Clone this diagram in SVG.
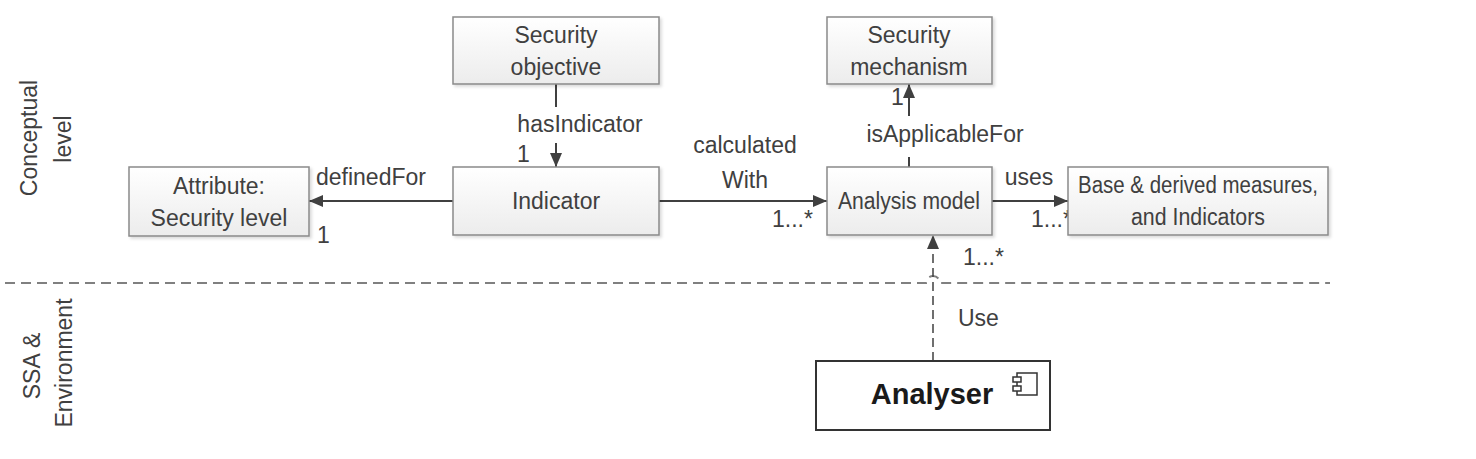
<svg xmlns="http://www.w3.org/2000/svg" width="1476" height="459" viewBox="0 0 1476 459">
<style>
.box{fill:url(#g);stroke:#8a8a8a;stroke-width:1.5;filter:url(#sh)}
.t{font-family:"Liberation Sans",Arial,sans-serif;font-size:23px;fill:#404040}
.c{stroke:#404040;stroke-width:2;fill:none}
.d{stroke:#404040;stroke-width:1.5;fill:none;stroke-dasharray:9,5}
</style>
<defs>
<linearGradient id="g" x1="0" y1="0" x2="0" y2="1"><stop offset="0" stop-color="#ffffff"/><stop offset="1" stop-color="#ececec"/></linearGradient>
<filter id="sh" x="-5%" y="-10%" width="115%" height="130%"><feDropShadow dx="2" dy="2" stdDeviation="1.5" flood-color="#000000" flood-opacity="0.15"/></filter>
<marker id="a" viewBox="0 0 14 12" refX="14" refY="6" markerWidth="14" markerHeight="12" markerUnits="userSpaceOnUse" orient="auto"><path d="M0,0 L14,6 L0,12 Z" fill="#404040"/></marker>
</defs>
<rect width="1476" height="459" fill="#ffffff"/>
<g id="lanes">
<path d="M5,283 H926 A7,7 0 0 1 940,283 H1330" stroke="#808080" stroke-width="2" stroke-dasharray="10,6" fill="none"/>
<text class="t" text-anchor="middle" transform="translate(37,138) rotate(-90)">Conceptual</text>
<text class="t" text-anchor="middle" transform="translate(71,139) rotate(-90)">level</text>
<text class="t" text-anchor="middle" transform="translate(40,366) rotate(-90)">SSA &amp;</text>
<text class="t" text-anchor="middle" transform="translate(72,363) rotate(-90)">Environment</text>
</g>
<g id="connectors">
<path class="c" d="M453,201 H309" marker-end="url(#a)"/>
<path class="c" d="M556,84 V107"/>
<path class="c" d="M556,143 V167" marker-end="url(#a)"/>
<path class="c" d="M659,201 H827" marker-end="url(#a)"/>
<path class="c" d="M909,167 V157"/>
<path class="c" d="M909,116 V84" marker-end="url(#a)"/>
<path class="c" d="M992,201 H1068" marker-end="url(#a)"/>
<path class="d" d="M933,361 V235" marker-end="url(#a)"/>
<text class="t" x="316" y="185">definedFor</text>
<text class="t" x="317" y="243">1</text>
<text class="t" x="580" y="132" text-anchor="middle">hasIndicator</text>
<text class="t" x="517" y="162">1</text>
<text class="t" x="745" y="153" text-anchor="middle">calculated</text>
<text class="t" x="745" y="188" text-anchor="middle">With</text>
<text class="t" x="772" y="227">1...*</text>
<text class="t" x="945" y="142" text-anchor="middle">isApplicableFor</text>
<text class="t" x="891" y="105">1</text>
<text class="t" x="1029" y="185" text-anchor="middle">uses</text>
<text class="t" x="1031" y="227">1...*</text>
<text class="t" x="963" y="265">1...*</text>
<text class="t" x="958" y="326">Use</text>
</g>
<g id="attribute">
<rect class="box" x="129" y="167" width="180" height="69"/>
<text class="t" x="219" y="194" text-anchor="middle">Attribute:</text>
<text class="t" x="219" y="226" text-anchor="middle">Security level</text>
</g>
<g id="security-objective">
<rect class="box" x="453" y="17" width="206" height="67"/>
<text class="t" x="556" y="43" text-anchor="middle">Security</text>
<text class="t" x="556" y="75" text-anchor="middle">objective</text>
</g>
<g id="indicator">
<rect class="box" x="453" y="167" width="206" height="68"/>
<text class="t" x="556" y="209" text-anchor="middle">Indicator</text>
</g>
<g id="security-mechanism">
<rect class="box" x="827" y="17" width="165" height="67"/>
<text class="t" x="909" y="43" text-anchor="middle">Security</text>
<text class="t" x="909" y="75" text-anchor="middle">mechanism</text>
</g>
<g id="analysis-model">
<rect class="box" x="827" y="167" width="165" height="68"/>
<text class="t" x="909" y="209" text-anchor="middle" textLength="142" lengthAdjust="spacingAndGlyphs">Analysis model</text>
</g>
<g id="base-measures">
<rect class="box" x="1068" y="167" width="260" height="68"/>
<text class="t" x="1198" y="193" text-anchor="middle" textLength="240" lengthAdjust="spacingAndGlyphs">Base &amp; derived measures,</text>
<text class="t" x="1198" y="225" text-anchor="middle" textLength="134" lengthAdjust="spacingAndGlyphs">and Indicators</text>
</g>
<g id="analyser">
<rect x="816" y="361" width="234" height="69" fill="#ffffff" stroke="#333333" stroke-width="2"/>
<text x="932" y="404" text-anchor="middle" font-family="Liberation Sans,Arial,sans-serif" font-size="29" font-weight="bold" fill="#1a1a1a">Analyser</text>
<rect x="1017" y="373" width="20" height="22" fill="#ffffff" stroke="#333333" stroke-width="1.5"/>
<rect x="1013" y="377" width="8" height="5" fill="#ffffff" stroke="#333333" stroke-width="1.5"/>
<rect x="1013" y="386" width="8" height="5" fill="#ffffff" stroke="#333333" stroke-width="1.5"/>
</g>
</svg>
